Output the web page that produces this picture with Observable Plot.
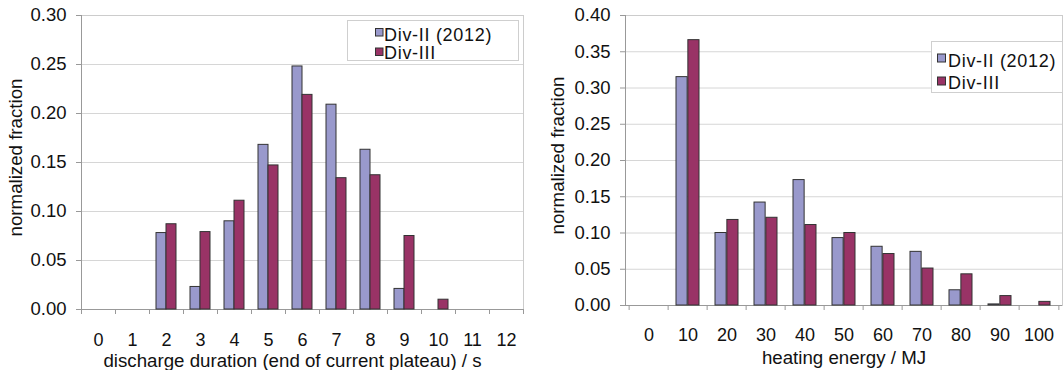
<!DOCTYPE html>
<html><head><meta charset="utf-8">
<script src="https://cdn.jsdelivr.net/npm/d3@7"></script>
<script src="https://cdn.jsdelivr.net/npm/@observablehq/plot@0.6"></script>
<style>
body{margin:0;background:#fff;font-family:"Liberation Sans",Arial,sans-serif;}
#wrap{position:relative;width:1063px;height:370px;overflow:hidden;background:#fff}
.chart{position:absolute;top:0}
.legend{position:absolute;overflow:visible}
</style></head><body><div id="wrap"></div>
<script>
const series = ["Div-II (2012)", "Div-III"];
const colors = ["#9999cc", "#993366"];

const durationCats = [0, 1, 2, 3, 4, 5, 6, 7, 8, 9, 10, 11, 12];
const durationDivII = [0, 0, 0.078, 0.023, 0.090, 0.168, 0.248, 0.209, 0.163, 0.021, 0, 0, 0];
const durationDivIII = [0, 0, 0.087, 0.079, 0.111, 0.147, 0.219, 0.134, 0.137, 0.075, 0.010, 0, 0];
const durationTicks = [0, 0.05, 0.10, 0.15, 0.20, 0.25, 0.30];

const energyCats = [0, 10, 20, 30, 40, 50, 60, 70, 80, 90, 100];
const energyDivII = [0, 0.315, 0.100, 0.142, 0.173, 0.093, 0.081, 0.074, 0.021, 0.0015, 0];
const energyDivIII = [0, 0.366, 0.118, 0.121, 0.111, 0.100, 0.071, 0.051, 0.043, 0.013, 0.005];
const energyTicks = [0, 0.05, 0.10, 0.15, 0.20, 0.25, 0.30, 0.35, 0.40];

const yTitle = "normalized fraction";
const durationTitle = "discharge duration (end of current plateau) / s";
const energyTitle = "heating energy / MJ";

const FONT = "'Liberation Sans', Arial, sans-serif";

function makeChart(o) {
  const rows = [];
  o.cats.forEach((c, i) => {
    rows.push({cat: c, s: series[0], v: o.a[i]});
    rows.push({cat: c, s: series[1], v: o.b[i]});
  });
  const band = (o.width - o.mL - o.mR) / o.cats.length;
  const last = o.cats[o.cats.length - 1];
  const fmt = d3.format(".2f");
  return Plot.plot({
    width: o.width, height: 370,
    marginLeft: o.mL, marginRight: o.mR, marginTop: o.mT, marginBottom: o.mB,
    style: {fontFamily: FONT, fontSize: "18px", color: "#111", background: "transparent", overflow: "visible"},
    x: {type: "band", domain: o.cats, padding: 0},
    y: {domain: [0, o.ticks[o.ticks.length - 1]]},
    marks: [
      Plot.gridY(o.ticks, {stroke: "#d6d6d6", strokeOpacity: 1}),
      Plot.frame({stroke: "#cccccc"}),
      Plot.frame({anchor: "left", stroke: "#999999"}),
      Plot.ruleY([0], {stroke: "#999999"}),
      Plot.axisY(o.ticks, {tickSize: 5, tickPadding: 10, tickFormat: fmt, stroke: "#999999", fill: "#111", fontSize: 18.5, label: null}),
      Plot.axisX({tickSize: 0, tickPadding: o.tickPad, fill: "#111", fontSize: 18, label: null}),
      Plot.axisX({tickSize: 5, tickFormat: () => "", dx: -band / 2, stroke: "#999999", label: null}),
      Plot.axisX([last], {tickSize: 5, tickFormat: () => "", dx: band / 2, stroke: "#999999", label: null}),
      Plot.barY(rows.filter(d => d.s === series[0] && d.v > 0), {x: "cat", y: "v", fill: colors[0], stroke: "#333", strokeWidth: 1, insetLeft: o.outer, insetRight: band / 2}),
      Plot.barY(rows.filter(d => d.s === series[1] && d.v > 0), {x: "cat", y: "v", fill: colors[1], stroke: "#333", strokeWidth: 1, insetLeft: band / 2, insetRight: o.outer}),
      Plot.text([o.xTitle], {frameAnchor: "bottom", dy: o.xTitleDy, dx: o.xTitleDx, lineAnchor: "middle", fill: "#111", fontSize: 18.7}),
      Plot.text([yTitle], {frameAnchor: "left", rotate: -90, dx: o.yTitleDx, dy: -5, lineAnchor: "middle", textAnchor: "middle", fill: "#111", fontSize: 18.7})
    ]
  });
}

function legend(box, sw, textX, baselines) {
  const svg = d3.create("svg")
    .attr("class", "legend")
    .attr("width", box[2] + 1).attr("height", box[3] + 1)
    .style("left", box[0] + "px").style("top", box[1] + "px");
  svg.append("rect")
    .attr("x", 0.5).attr("y", 0.5).attr("width", box[2]).attr("height", box[3])
    .attr("fill", "#fff").attr("stroke", "#cfcfcf");
  series.forEach((s, i) => {
    svg.append("rect")
      .attr("x", sw[0] + 0.5).attr("y", sw[1 + i] + 0.5)
      .attr("width", sw[3]).attr("height", sw[3])
      .attr("fill", colors[i]).attr("stroke", "#333");
    svg.append("text")
      .attr("x", textX).attr("y", baselines[i])
      .attr("font-family", FONT).attr("font-size", 18)
      .attr("letter-spacing", "0.7px")
      .attr("fill", "#111").text(s);
  });
  return svg.node();
}

const wrap = document.getElementById("wrap");

const left = document.createElement("div");
left.className = "chart"; left.style.left = "0px";
left.appendChild(makeChart({
  cats: durationCats, a: durationDivII, b: durationDivIII, ticks: durationTicks,
  width: 530, mL: 81, mR: 7, mT: 15, mB: 61, outer: 7, tickPad: 24,
  xTitle: durationTitle, xTitleDy: 52, xTitleDx: -10, yTitleDx: -65
}));
wrap.appendChild(left);

const right = document.createElement("div");
right.className = "chart"; right.style.left = "530px";
right.appendChild(makeChart({
  cats: energyCats, a: energyDivII, b: energyDivIII, ticks: energyTicks,
  width: 533, mL: 95, mR: 1, mT: 15, mB: 65, outer: 8, tickPad: 23,
  xTitle: energyTitle, xTitleDy: 53, xTitleDx: 0, yTitleDx: -67
}));
wrap.appendChild(right);

wrap.appendChild(legend([347, 20, 171, 40], [28, 8, 27.5, 7.5], 37, [20.7, 39]));
wrap.appendChild(legend([931, 41, 131, 51], [6, 12.5, 35.5, 8], 17, [25.7, 48]));
</script>
</body></html>
